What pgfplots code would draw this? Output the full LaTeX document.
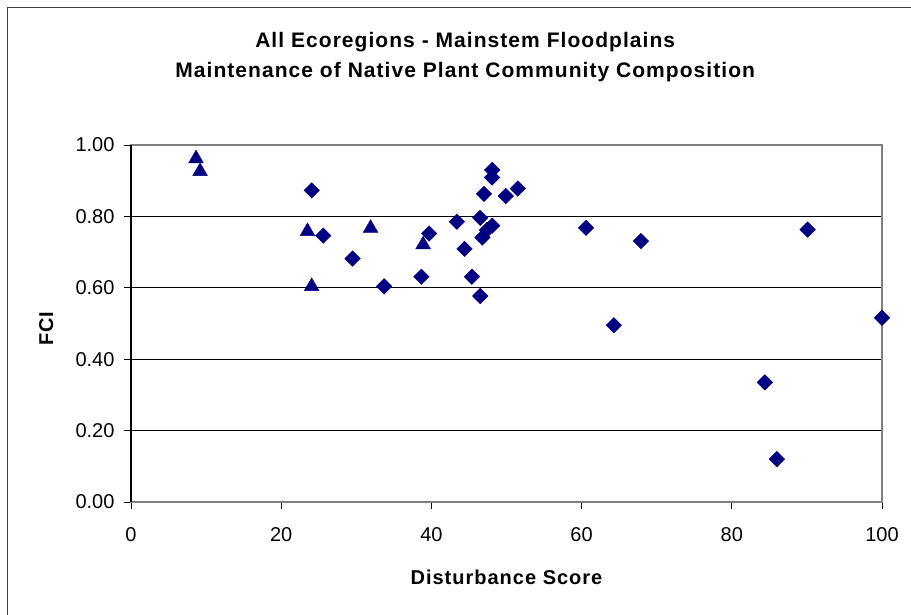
\documentclass[border=0pt]{standalone}
\usepackage{pgfplots}
\pgfplotsset{compat=1.18}
\usepackage{fontspec}
\setmainfont{Liberation Sans}
\newfontfamily\titlefont[LetterSpace=5]{Liberation Sans}
\newfontfamily\labelfont[LetterSpace=5]{Liberation Sans}
\definecolor{navy}{HTML}{000080}
\definecolor{frame}{HTML}{808080}
\begin{document}
\begin{tikzpicture}
\useasboundingbox (0pt,0pt) rectangle (911pt,615pt);
\fill[white] (0pt,0pt) rectangle (911pt,615pt);
\draw[line width=1.4pt, black!75] (7.3pt,0pt) -- (7.3pt,607.7pt) -- (911pt,607.7pt);
\begin{axis}[
  at={(131pt,113pt)}, anchor=south west,
  scale only axis, width=751pt, height=357pt,
  xmin=0, xmax=100, ymin=0, ymax=1,
  clip=false,
  xtick={0,20,40,60,80,100},
  ytick={0,0.2,0.4,0.6,0.8,1},
  yticklabel style={/pgf/number format/fixed, /pgf/number format/fixed zerofill, /pgf/number format/precision=2},
  /pgf/number format/assume math mode=true,
  tick align=outside, major tick length=7pt,
  xtick pos=bottom, ytick pos=left,
  tick style={black, line width=0.9pt},
  ticklabel style={font=\fontsize{20}{20}\selectfont},
  xticklabel style={yshift=-15pt},
  yticklabel style={xshift=-6pt},
  ymajorgrids, major grid style={black, line width=0.9pt},
  axis line style={frame, line width=1.4pt},
  title={All Ecoregions - Mainstem Floodplains\\Maintenance of Native Plant Community Composition},
  title style={font=\titlefont\bfseries\fontsize{21}{30}\selectfont, align=center, at={(axis description cs:0.445,1.23)}, anchor=center},
  xlabel={Disturbance Score},
  xlabel style={font=\labelfont\bfseries\fontsize{20}{22}\selectfont, at={(axis description cs:0.5,-0.21)}, anchor=center},
  ylabel={FCI},
  ylabel style={font=\labelfont\bfseries\fontsize{20}{22}\selectfont, at={(axis description cs:-0.113,0.485)}, anchor=center},
]
\draw[black, line width=1.2pt] (axis cs:0,0) -- (axis cs:0,1);
\addplot[only marks, mark=square*, mark size=5.5pt, mark options={rotate=45, fill=navy, draw=navy}] coordinates {
(24.07,0.873) (25.6,0.746) (29.5,0.682) (33.7,0.604) (38.66,0.631) (39.7,0.752)
(43.4,0.785) (44.4,0.709) (45.4,0.631) (46.5,0.577) (46.5,0.796) (46.8,0.741)
(47.4,0.762) (48.1,0.774) (47.0,0.863) (48.1,0.930) (48.07,0.909) (49.9,0.857)
(51.5,0.878) (60.6,0.768) (67.9,0.731) (64.3,0.495) (90.1,0.763) (100,0.516)
(84.4,0.335) (86.0,0.120)
};
\addplot[only marks, mark=triangle*, mark size=8.5pt, mark options={fill=navy, draw=navy}] coordinates {
(8.66,0.962) (9.2,0.926) (23.5,0.758) (24.06,0.604) (31.9,0.767) (38.9,0.721)
};
\end{axis}
\end{tikzpicture}
\end{document}
